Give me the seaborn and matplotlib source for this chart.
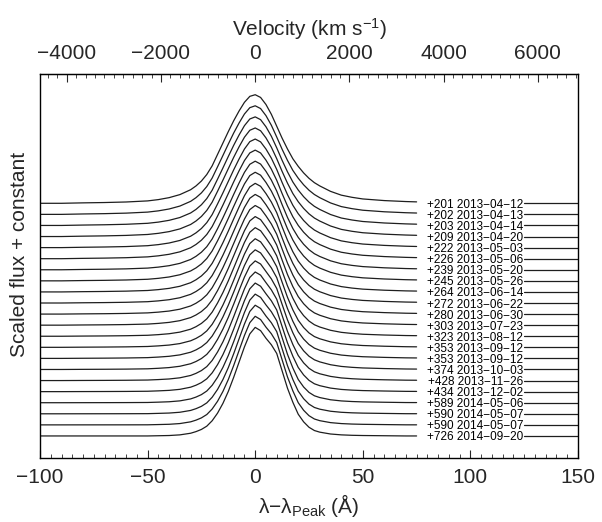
import numpy as np
import pandas as pd
import matplotlib
matplotlib.use("Agg")
import matplotlib.pyplot as plt
from matplotlib.ticker import MultipleLocator, FixedLocator
import seaborn as sns

# epoch labels, top to bottom
phases = ["+201", "+202", "+203", "+209", "+222", "+226", "+239", "+245",
          "+264", "+272", "+280", "+303", "+323", "+353", "+353", "+374",
          "+428", "+434", "+589", "+590", "+590", "+726"]
dates = ["2013−04−12", "2013−04−13", "2013−04−14", "2013−04−20", "2013−05−03",
         "2013−05−06", "2013−05−20", "2013−05−26", "2013−06−14", "2013−06−22",
         "2013−06−30", "2013−07−23", "2013−08−12", "2013−09−12", "2013−09−12",
         "2013−10−03", "2013−11−26", "2013−12−02", "2014−05−06", "2014−05−07",
         "2014−05−07", "2014−09−20"]

# wavelength grid (Angstrom from line peak)
wave = [-100, -90, -80, -70, -60, -50, -45, -40, -35, -30, -27.5, -25, -22.5,
        -20, -17.5, -15, -12.5, -10, -7.5, -5, -2.5, 0, 2.5, 5, 7.5, 10, 12.5,
        15, 17.5, 20, 22.5, 25, 27.5, 30, 35, 40, 45, 50, 60, 70, 75,
        125, 130, 140, 150]

# profile of the earliest spectrum (broad wings), peak-normalised
flux_early = [0.0, 0.0, 0.004, 0.007, 0.012, 0.022, 0.034, 0.052, 0.08, 0.125,
              0.16, 0.205, 0.265, 0.345, 0.45, 0.555, 0.66, 0.76, 0.85, 0.93,
              0.985, 1.0, 0.975, 0.91, 0.82, 0.71, 0.6, 0.5, 0.41, 0.34, 0.28,
              0.23, 0.19, 0.16, 0.11, 0.075, 0.055, 0.04, 0.025, 0.016, 0.013,
              0.0, 0.0, 0.0, 0.0]

# profile of the latest spectrum (narrow core, red shoulder)
flux_late = [0.0, 0.0, 0.0, 0.0, 0.0, 0.0, 0.002, 0.004, 0.01, 0.025, 0.04,
             0.06, 0.09, 0.14, 0.21, 0.3, 0.41, 0.54, 0.68, 0.82, 0.94, 1.0,
             0.97, 0.9, 0.84, 0.76, 0.6, 0.44, 0.31, 0.2, 0.13, 0.08, 0.05,
             0.035, 0.018, 0.01, 0.006, 0.004, 0.002, 0.0, 0.0,
             0.0, 0.0, 0.0, 0.0]

# share of the broad profile in each spectrum, top to bottom
broad_share = [1.0, 0.95, 0.9, 0.86, 0.8, 0.76, 0.7, 0.66, 0.6, 0.55, 0.5,
               0.45, 0.4, 0.35, 0.32, 0.28, 0.22, 0.16, 0.1, 0.06, 0.03, 0.0]

vel_ticks = [-4000, -2000, 0, 2000, 4000, 6000]

peak_scale = 9.8    # peak height in units of the vertical spacing
label_x = 124.5
gap_lo, gap_hi = 75, 125
lam0 = 6563.0
c_kms = 299792.458

wave_arr = np.array(wave, dtype=float)
early = np.array(flux_early)
late = np.array(flux_late)
n = len(phases)

rows = []
for i in range(n):
    w = broad_share[i]
    offset = n - 1 - i
    flux = offset + peak_scale * (w * early + (1 - w) * late)
    for x, y in zip(wave_arr, flux):
        if x <= gap_lo:
            seg = f"{i}a"
        elif x >= gap_hi:
            seg = f"{i}b"
        else:
            continue
        rows.append({"wave": x, "flux": y, "seg": seg})
df = pd.DataFrame(rows)

sns.set_style("ticks")
plt.rcParams["font.family"] = ["Liberation Sans", "DejaVu Sans"]
plt.rcParams["mathtext.fontset"] = "custom"
plt.rcParams["mathtext.rm"] = "Liberation Sans"
plt.rcParams["mathtext.it"] = "Liberation Sans:italic"
plt.rcParams["axes.unicode_minus"] = True

fs = 15
fig, ax = plt.subplots(figsize=(6.02, 5.22), dpi=100)
fig.subplots_adjust(left=40 / 602, right=578 / 602, bottom=1 - 458 / 522, top=1 - 74 / 522)

sns.lineplot(data=df, x="wave", y="flux", units="seg", estimator=None,
             color="#1e1e1e", linewidth=0.9, ax=ax, legend=False)

for i in range(n):
    ax.text(label_x, n - 1 - i, f"{phases[i]} {dates[i]}", ha="right",
            va="center_baseline", fontsize=8.45, color="black")

ax.set_xlim(-100, 150)
ax.set_ylim(-1.99, 32.67)
ax.set_yticks([])
ax.xaxis.set_major_locator(MultipleLocator(50))
ax.xaxis.set_minor_locator(MultipleLocator(5))
ax.tick_params(axis="x", which="both", direction="in", top=False, labelsize=fs, pad=7)
ax.tick_params(axis="x", which="major", length=6)
ax.tick_params(axis="x", which="minor", length=3)
ax.set_xlabel("λ−λ$_{\\mathrm{Peak}}$ (Å)", fontsize=fs, labelpad=4)
ax.set_ylabel("Scaled flux + constant", fontsize=fs)
ax.yaxis.set_label_coords(-0.02, 0.53)
for s in ax.spines.values():
    s.set_linewidth(1.0)
    s.set_color("black")

sec = ax.secondary_xaxis("top", functions=(lambda l: l / lam0 * c_kms,
                                            lambda v: v * lam0 / c_kms))
sec.xaxis.set_major_locator(FixedLocator(vel_ticks))
sec.xaxis.set_minor_locator(MultipleLocator(200))
sec.tick_params(axis="x", which="both", direction="in", labelsize=fs, pad=8)
sec.tick_params(axis="x", which="major", length=6)
sec.tick_params(axis="x", which="minor", length=3)
sec.set_xlabel("Velocity (km s$^{-1}$)", fontsize=fs, labelpad=6)

fig.savefig("out.png", dpi=100)
